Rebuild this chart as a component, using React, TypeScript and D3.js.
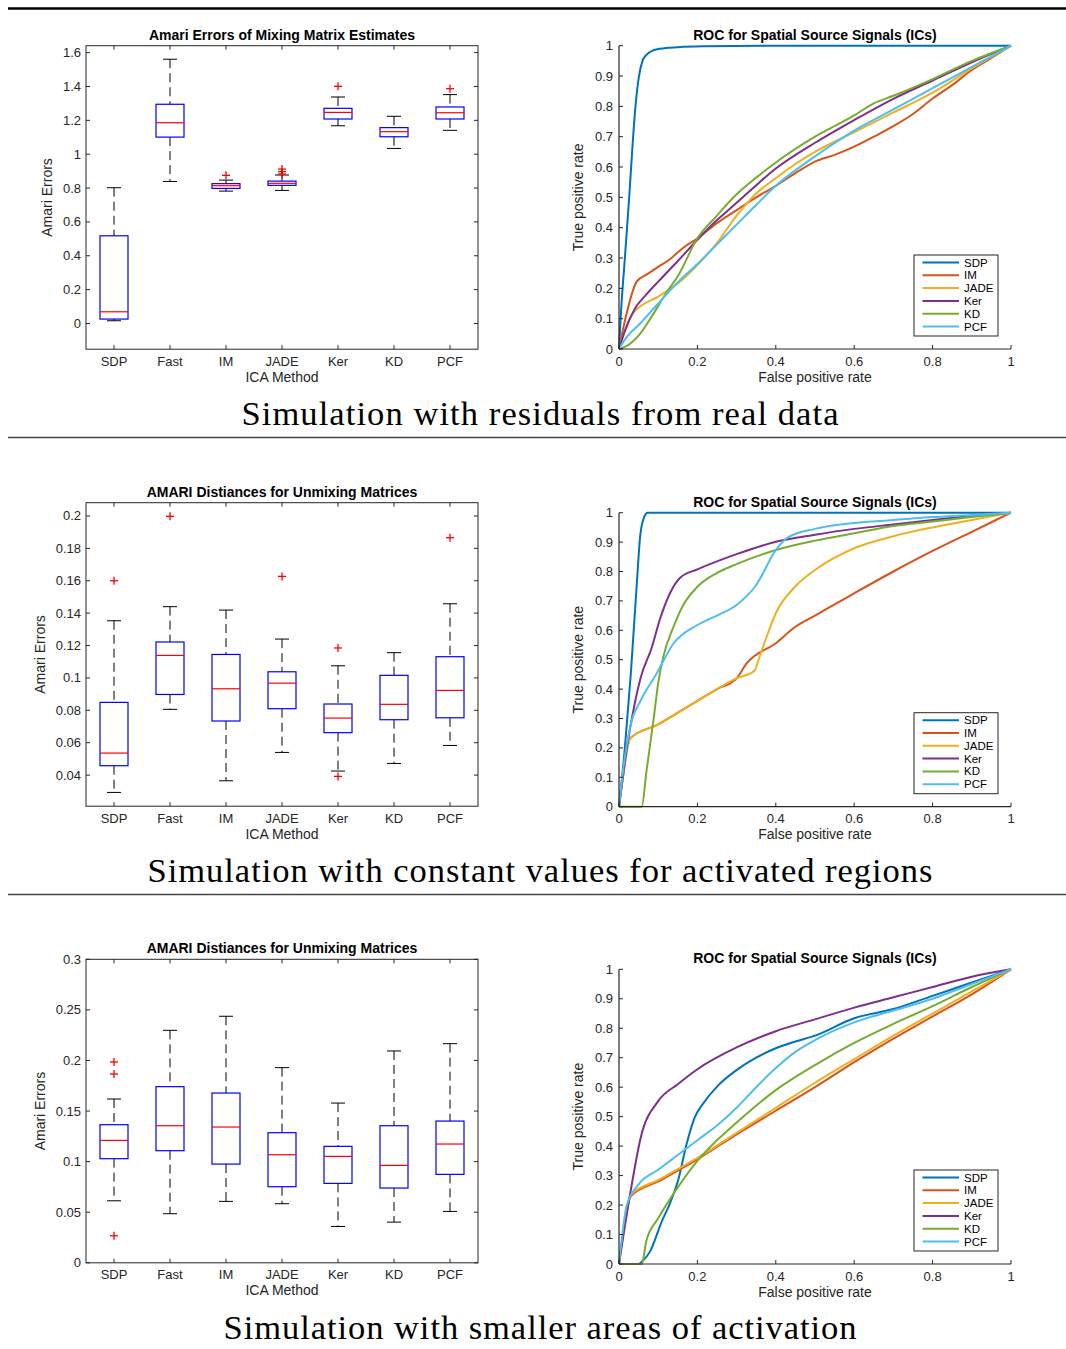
import React from 'react';
import * as d3 from 'd3';

// ICA methods on the boxplot x axis
const methods = ['SDP', 'Fast', 'IM', 'JADE', 'Ker', 'KD', 'PCF'];
const rocNames = ['SDP', 'IM', 'JADE', 'Ker', 'KD', 'PCF'];
const rocColors = ['#0072BD', '#D95319', '#EDB120', '#7E2F8E', '#77AC30', '#4DBEEE'];

// --- simulation 1: residuals from real data
const lo1 = [0.016, 0.839, 0.782, 0.786, 1.168, 1.034, 1.141];
const q1a = [0.026, 1.101, 0.798, 0.816, 1.208, 1.103, 1.208];
const med1 = [0.069, 1.186, 0.814, 0.828, 1.247, 1.133, 1.245];
const q3a = [0.518, 1.295, 0.826, 0.841, 1.271, 1.157, 1.279];
const hi1 = [0.802, 1.561, 0.847, 0.877, 1.338, 1.224, 1.352];
const out1 = [[], [], [0.875], [0.883, 0.897, 0.912], [1.401], [], [1.387]];
const ticks1 = [0, 0.2, 0.4, 0.6, 0.8, 1, 1.2, 1.4, 1.6];

const roc1SDP = [[0,0],[0.005,0.12],[0.015,0.3],[0.026,0.5],[0.035,0.68],[0.042,0.8],[0.051,0.9],[0.06,0.95],[0.07,0.97],[0.08,0.98],[0.105,0.99],[0.15,0.995],[0.215,0.998],[0.4,1],[1,1]];
const roc1IM = [[0,0],[0.02,0.12],[0.045,0.222],[0.07,0.245],[0.1,0.271],[0.13,0.296],[0.16,0.33],[0.2,0.365],[0.25,0.415],[0.3,0.458],[0.35,0.5],[0.4,0.538],[0.45,0.58],[0.5,0.618],[0.55,0.64],[0.6,0.667],[0.65,0.7],[0.7,0.735],[0.75,0.775],[0.8,0.826],[0.85,0.87],[0.9,0.92],[0.95,0.96],[1,1]];
const roc1JADE = [[0,0],[0.015,0.06],[0.037,0.12],[0.054,0.14],[0.1,0.173],[0.15,0.216],[0.2,0.277],[0.25,0.35],[0.3,0.44],[0.35,0.513],[0.4,0.563],[0.45,0.61],[0.5,0.65],[0.6,0.715],[0.7,0.78],[0.8,0.845],[0.9,0.925],[1,1]];
const roc1Ker = [[0,0],[0.015,0.06],[0.041,0.134],[0.07,0.18],[0.1,0.222],[0.15,0.29],[0.2,0.36],[0.25,0.425],[0.3,0.482],[0.35,0.54],[0.4,0.595],[0.5,0.68],[0.6,0.755],[0.7,0.825],[0.8,0.885],[0.9,0.945],[1,1]];
const roc1KD = [[0,0],[0.02,0.01],[0.035,0.025],[0.051,0.046],[0.08,0.1],[0.12,0.184],[0.15,0.24],[0.2,0.365],[0.25,0.44],[0.3,0.51],[0.35,0.565],[0.4,0.615],[0.5,0.7],[0.6,0.77],[0.65,0.81],[0.7,0.835],[0.8,0.89],[0.9,0.95],[1,1]];
const roc1PCF = [[0,0],[0.02,0.04],[0.05,0.079],[0.1,0.15],[0.15,0.22],[0.2,0.28],[0.25,0.345],[0.3,0.41],[0.35,0.475],[0.4,0.538],[0.5,0.635],[0.6,0.72],[0.7,0.79],[0.8,0.86],[0.9,0.93],[1,1]];

// --- simulation 2: constant values for activated regions
const lo2 = [0.0293, 0.0806, 0.0365, 0.054, 0.0425, 0.0472, 0.0583];
const q1b = [0.0458, 0.0898, 0.0734, 0.081, 0.0662, 0.0742, 0.0754];
const med2 = [0.0536, 0.1139, 0.0933, 0.0968, 0.0752, 0.0837, 0.0923];
const q3b = [0.0849, 0.1222, 0.1145, 0.1038, 0.0839, 0.1016, 0.1131];
const hi2 = [0.1353, 0.144, 0.1419, 0.124, 0.1075, 0.1156, 0.1458];
const out2 = [[0.16], [0.1998], [], [0.1627], [0.1185, 0.0392], [], [0.1866]];
const ticks2 = [0.04, 0.06, 0.08, 0.1, 0.12, 0.14, 0.16, 0.18, 0.2];

const roc2SDP = [[0,0],[0.015,0.2],[0.03,0.45],[0.045,0.75],[0.054,0.92],[0.064,0.985],[0.073,1],[1,1]];
const roc2IM = [[0,0],[0.01,0.1],[0.028,0.232],[0.1,0.28],[0.15,0.32],[0.2,0.36],[0.25,0.4],[0.3,0.437],[0.326,0.488],[0.4,0.556],[0.45,0.612],[0.5,0.65],[0.6,0.726],[0.7,0.8],[0.8,0.87],[0.9,0.935],[1,1]];
const roc2JADE = [[0,0],[0.01,0.1],[0.028,0.232],[0.1,0.28],[0.15,0.32],[0.2,0.36],[0.25,0.4],[0.3,0.437],[0.345,0.462],[0.36,0.516],[0.38,0.59],[0.4,0.658],[0.449,0.748],[0.5,0.805],[0.6,0.879],[0.7,0.92],[0.8,0.95],[0.9,0.975],[1,1]];
const roc2Ker = [[0,0],[0.02,0.2],[0.04,0.35],[0.056,0.442],[0.083,0.539],[0.105,0.64],[0.13,0.726],[0.156,0.779],[0.2,0.807],[0.3,0.859],[0.4,0.901],[0.5,0.925],[0.6,0.945],[0.7,0.96],[0.8,0.975],[0.9,0.99],[1,1]];
const roc2KD = [[0,0],[0.058,0],[0.07,0.12],[0.088,0.295],[0.1,0.42],[0.113,0.51],[0.139,0.612],[0.164,0.686],[0.2,0.748],[0.25,0.795],[0.3,0.825],[0.4,0.873],[0.5,0.905],[0.6,0.93],[0.7,0.955],[0.8,0.97],[0.9,0.985],[1,1]];
const roc2PCF = [[0,0],[0.01,0.12],[0.03,0.28],[0.056,0.363],[0.096,0.453],[0.139,0.555],[0.2,0.618],[0.25,0.65],[0.3,0.686],[0.35,0.754],[0.4,0.873],[0.43,0.915],[0.5,0.945],[0.6,0.965],[0.7,0.975],[0.8,0.985],[0.9,0.992],[1,1]];

// --- simulation 3: smaller areas of activation
const lo3 = [0.0613, 0.0485, 0.0607, 0.0584, 0.0359, 0.0402, 0.0508];
const q1c = [0.1029, 0.1108, 0.0976, 0.0752, 0.0785, 0.0739, 0.0874];
const med3 = [0.121, 0.1355, 0.1342, 0.1068, 0.1052, 0.0963, 0.1174];
const q3c = [0.1365, 0.1741, 0.1678, 0.1286, 0.1151, 0.1355, 0.1401];
const hi3 = [0.1619, 0.2298, 0.2437, 0.1929, 0.1579, 0.2094, 0.2166];
const out3 = [[0.1985, 0.1866, 0.0267], [], [], [], [], [], []];
const ticks3 = [0, 0.05, 0.1, 0.15, 0.2, 0.25, 0.3];

const roc3SDP = [[0,0],[0.05,0],[0.06,0.01],[0.079,0.042],[0.109,0.144],[0.13,0.206],[0.151,0.285],[0.173,0.41],[0.194,0.5],[0.215,0.545],[0.25,0.602],[0.3,0.658],[0.35,0.7],[0.4,0.732],[0.45,0.755],[0.5,0.775],[0.6,0.834],[0.7,0.865],[0.8,0.91],[0.9,0.955],[1,1]];
const roc3IM = [[0,0],[0.01,0.1],[0.03,0.23],[0.1,0.28],[0.2,0.355],[0.3,0.44],[0.4,0.52],[0.5,0.6],[0.6,0.685],[0.7,0.765],[0.8,0.84],[0.9,0.915],[1,1]];
const roc3JADE = [[0,0],[0.01,0.1],[0.03,0.235],[0.1,0.285],[0.2,0.36],[0.3,0.445],[0.4,0.53],[0.5,0.615],[0.6,0.695],[0.7,0.775],[0.8,0.85],[0.9,0.925],[1,1]];
const roc3Ker = [[0,0],[0.03,0.25],[0.056,0.432],[0.099,0.551],[0.15,0.61],[0.2,0.661],[0.3,0.735],[0.4,0.79],[0.5,0.83],[0.6,0.87],[0.7,0.905],[0.8,0.94],[0.9,0.975],[1,1]];
const roc3KD = [[0,0],[0.058,0],[0.07,0.08],[0.1,0.155],[0.15,0.26],[0.2,0.35],[0.25,0.42],[0.3,0.48],[0.4,0.59],[0.5,0.675],[0.6,0.75],[0.7,0.815],[0.8,0.875],[0.9,0.94],[1,1]];
const roc3PCF = [[0,0],[0.02,0.2],[0.05,0.27],[0.1,0.32],[0.15,0.37],[0.2,0.42],[0.25,0.47],[0.3,0.53],[0.35,0.6],[0.4,0.665],[0.45,0.72],[0.5,0.76],[0.6,0.82],[0.7,0.86],[0.8,0.9],[0.9,0.95],[1,1]];

const rocXTicks = [0, 0.2, 0.4, 0.6, 0.8, 1];
const rocYTicks = [0, 0.1, 0.2, 0.3, 0.4, 0.5, 0.6, 0.7, 0.8, 0.9, 1];

const captions = [
  'Simulation with residuals from real data',
  'Simulation with constant values for activated regions',
  'Simulation with smaller areas of activation',
];

const SANS = 'Liberation Sans, Arial, Helvetica, sans-serif';
const AX = '#262626';
const fmt = (v: number) => String(+v.toFixed(3));

function BoxPanel({ top, title, domain, ticks, lo, q1, med, q3, hi, outliers, ylabX }: any) {
  const left = 86, right = 478, bottom = top + 303.5;
  const x = d3.scaleLinear().domain([0.5, 7.5]).range([left, right]);
  const y = d3.scaleLinear().domain(domain).range([bottom, top]);
  const bw = x(1.25) - x(1);
  const cw = x(1.125) - x(1);
  return (
    <g fontFamily={SANS}>
      <text x={(left + right) / 2} y={top - 6} textAnchor="middle" fontSize={14} fontWeight="bold" fill="#000">{title}</text>
      <rect x={left} y={top} width={right - left} height={bottom - top} fill="none" stroke={AX} strokeWidth={1} />
      {ticks.map((t: number) => (
        <g key={t}>
          <line x1={left} x2={left + 4} y1={y(t)} y2={y(t)} stroke={AX} />
          <line x1={right} x2={right - 4} y1={y(t)} y2={y(t)} stroke={AX} />
          <text x={left - 5} y={y(t) + 4.5} textAnchor="end" fontSize={13} fill={AX}>{fmt(t)}</text>
        </g>
      ))}
      {methods.map((m, i) => (
        <g key={m}>
          <line x1={x(i + 1)} x2={x(i + 1)} y1={bottom} y2={bottom - 4} stroke={AX} />
          <line x1={x(i + 1)} x2={x(i + 1)} y1={top} y2={top + 4} stroke={AX} />
          <text x={x(i + 1)} y={bottom + 16.5} textAnchor="middle" fontSize={13} fill={AX}>{m}</text>
        </g>
      ))}
      <text x={(left + right) / 2} y={bottom + 32.5} textAnchor="middle" fontSize={14} fill={AX}>ICA Method</text>
      <text transform={`translate(${ylabX},${(top + bottom) / 2}) rotate(-90)`} textAnchor="middle" fontSize={14} fill={AX}>Amari Errors</text>
      {methods.map((m, i) => {
        const cx = x(i + 1);
        return (
          <g key={'b' + m}>
            <line x1={cx} x2={cx} y1={y(hi[i])} y2={y(q3[i])} stroke="#000" strokeDasharray="9,5" />
            <line x1={cx} x2={cx} y1={y(q1[i])} y2={y(lo[i])} stroke="#000" strokeDasharray="9,5" />
            <line x1={cx - cw} x2={cx + cw} y1={y(hi[i])} y2={y(hi[i])} stroke="#000" />
            <line x1={cx - cw} x2={cx + cw} y1={y(lo[i])} y2={y(lo[i])} stroke="#000" />
            <rect x={cx - bw} y={y(q3[i])} width={2 * bw} height={Math.max(0.5, y(q1[i]) - y(q3[i]))} fill="none" stroke="#0000FF" strokeWidth={1.2} />
            <line x1={cx - bw} x2={cx + bw} y1={y(med[i])} y2={y(med[i])} stroke="#FF0000" strokeWidth={1.2} />
            {outliers[i].map((o: number, k: number) => (
              <g key={k} stroke="#FF0000" strokeWidth={1.3}>
                <line x1={cx - 4} x2={cx + 4} y1={y(o)} y2={y(o)} />
                <line x1={cx} x2={cx} y1={y(o) - 4} y2={y(o) + 4} />
              </g>
            ))}
          </g>
        );
      })}
    </g>
  );
}

function RocPanel({ top, height, curves }: any) {
  const left = 619, right = 1011, bottom = top + height;
  const x = d3.scaleLinear().domain([0, 1]).range([left, right]);
  const y = d3.scaleLinear().domain([0, 1]).range([bottom, top]);
  const line = d3.line<number[]>().x(d => x(d[0])).y(d => y(d[1])).curve(d3.curveMonotoneX);
  const lgX = right - 97, lgY = bottom - 94;
  return (
    <g fontFamily={SANS}>
      <text x={(left + right) / 2} y={top - 6} textAnchor="middle" fontSize={14} fontWeight="bold" fill="#000">ROC for Spatial Source Signals (ICs)</text>
      {curves.map((c: number[][], i: number) => (
        <path key={i} d={line(c) as string} fill="none" stroke={rocColors[i]} strokeWidth={2} strokeLinejoin="round" />
      ))}
      <line x1={left} x2={right} y1={bottom} y2={bottom} stroke={AX} strokeWidth={1.2} />
      <line x1={left} x2={left} y1={top} y2={bottom} stroke={AX} strokeWidth={1.2} />
      {rocYTicks.map(t => (
        <g key={t}>
          <line x1={left} x2={left + 4} y1={y(t)} y2={y(t)} stroke={AX} />
          <text x={left - 6} y={y(t) + 4.5} textAnchor="end" fontSize={13} fill={AX}>{fmt(t)}</text>
        </g>
      ))}
      {rocXTicks.map(t => (
        <g key={t}>
          <line x1={x(t)} x2={x(t)} y1={bottom} y2={bottom - 4} stroke={AX} />
          <text x={x(t)} y={bottom + 16.5} textAnchor="middle" fontSize={13} fill={AX}>{fmt(t)}</text>
        </g>
      ))}
      <text x={(left + right) / 2} y={bottom + 32.5} textAnchor="middle" fontSize={14} fill={AX}>False positive rate</text>
      <text transform={`translate(583,${(top + bottom) / 2}) rotate(-90)`} textAnchor="middle" fontSize={14} fill={AX}>True positive rate</text>
      <rect x={lgX} y={lgY} width={84} height={81} fill="#fff" stroke={AX} strokeWidth={1} />
      {rocNames.map((n, i) => (
        <g key={n}>
          <line x1={lgX + 8.5} x2={lgX + 45} y1={lgY + 7.5 + i * 12.8} y2={lgY + 7.5 + i * 12.8} stroke={rocColors[i]} strokeWidth={2} />
          <text x={lgX + 50} y={lgY + 11.5 + i * 12.8} fontSize={11.5} fill="#000">{n}</text>
        </g>
      ))}
    </g>
  );
}

export default function App() {
  const capY = [425, 882, 1339];
  const capW = [597, 785, 633];
  return (
    <svg width={1066} height={1349} style={{ position: 'absolute', left: 0, top: 0, background: '#fff' }}>
      <rect x={0} y={0} width={1066} height={1349} fill="#fff" />
      <line x1={8} x2={1066} y1={8.5} y2={8.5} stroke="#000" strokeWidth={2.5} />
      <line x1={8} x2={1066} y1={437.5} y2={437.5} stroke="#444" strokeWidth={1.5} />
      <line x1={8} x2={1066} y1={894.5} y2={894.5} stroke="#444" strokeWidth={1.5} />

      <BoxPanel top={45.7} title="Amari Errors of Mixing Matrix Estimates" domain={[-0.152, 1.641]} ticks={ticks1}
        lo={lo1} q1={q1a} med={med1} q3={q3a} hi={hi1} outliers={out1} ylabX={52} />
      <RocPanel top={45.7} height={303.3} curves={[roc1SDP, roc1IM, roc1JADE, roc1Ker, roc1KD, roc1PCF]} />

      <BoxPanel top={502.7} title="AMARI Distiances for Unmixing Matrices" domain={[0.0208, 0.2082]} ticks={ticks2}
        lo={lo2} q1={q1b} med={med2} q3={q3b} hi={hi2} outliers={out2} ylabX={45} />
      <RocPanel top={512.7} height={294} curves={[roc2SDP, roc2IM, roc2JADE, roc2Ker, roc2KD, roc2PCF]} />

      <BoxPanel top={959.3} title="AMARI Distiances for Unmixing Matrices" domain={[0, 0.3]} ticks={ticks3}
        lo={lo3} q1={q1c} med={med3} q3={q3c} hi={hi3} outliers={out3} ylabX={45} />
      <RocPanel top={969.3} height={294.7} curves={[roc3SDP, roc3IM, roc3JADE, roc3Ker, roc3KD, roc3PCF]} />

      {captions.map((c, i) => (
        <text key={c} x={540} y={capY[i]} textAnchor="middle" fontFamily="Liberation Serif, DejaVu Serif, serif"
          fontSize={34.5} textLength={capW[i]} lengthAdjust="spacing" fill="#000">{c}</text>
      ))}
    </svg>
  );
}
